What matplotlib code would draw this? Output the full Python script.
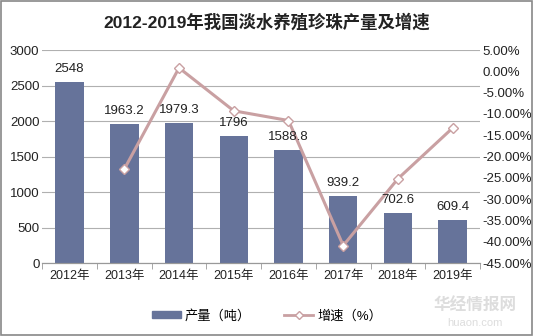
import numpy as np
import matplotlib.pyplot as plt
from matplotlib.lines import Line2D
from matplotlib.patches import Patch, Rectangle
from matplotlib.ticker import FuncFormatter

plt.rcParams['font.family'] = ['Liberation Sans', 'Noto Sans CJK SC', 'DejaVu Sans']

years = ["2012年", "2013年", "2014年", "2015年", "2016年", "2017年", "2018年", "2019年"]
output = [2548, 1963.2, 1979.3, 1796, 1588.8, 939.2, 702.6, 609.4]
output_labels = ["2548", "1963.2", "1979.3", "1796", "1588.8", "939.2", "702.6", "609.4"]
growth = [None, -22.95, 0.82, -9.26, -11.54, -40.89, -25.19, -13.27]

bar_color = "#66739a"
line_color = "#c9a0a2"

fig = plt.figure(figsize=(5.34, 3.36), dpi=100)
ax1 = fig.add_axes([0.079, 0.217, 0.820, 0.634])
ax2 = ax1.twinx()

x = np.arange(len(years))
ax1.bar(x, output, width=0.52, color=bar_color, zorder=2)

gx = [xi for xi, g in zip(x, growth) if g is not None]
gy = [g for g in growth if g is not None]
ax2.plot(gx, gy, color=line_color, lw=2.2, marker="D", markersize=5.5,
         markerfacecolor="white", markeredgecolor=line_color, markeredgewidth=1, zorder=3)

# value labels drawn on top of the line
for xi, v, s in zip(x, output, output_labels):
    ax2.annotate(s, (xi, v / 3000 * 50 - 45), xytext=(0, 5), textcoords="offset points",
                 ha="center", va="bottom", fontsize=9.5, color="#222222", zorder=5)

ax1.set_xlim(-0.5, len(years) - 0.5)
ax1.set_ylim(0, 3000)
ax1.set_yticks(np.arange(0, 3001, 500))
ax2.set_ylim(-45, 5)
ax2.set_yticks(np.arange(-45, 6, 5))
ax2.yaxis.set_major_formatter(FuncFormatter(lambda v, p: "%.2f%%" % v))

ax1.grid(axis="y", color="#b0b0b0", lw=0.8, zorder=0)
ax1.set_axisbelow(True)

for ax in (ax1, ax2):
    for side in ("left", "right", "top"):
        ax.spines[side].set_visible(False)
    ax.spines["bottom"].set_color("#999999")
    ax.tick_params(axis="y", length=0, labelsize=9.5, colors="#222222")

ax1.tick_params(axis="y", pad=2)
ax2.tick_params(axis="y", pad=2)
ax1.set_xticks(x)
ax1.set_xticklabels(years, fontsize=9)
ax1.tick_params(axis="x", length=0, pad=5, colors="#222222")
ax1.set_xticks(np.arange(-0.5, len(years), 1), minor=True)
ax1.tick_params(axis="x", which="minor", length=4, color="#999999")

fig.text(0.5, 0.935, "2012-2019年我国淡水养殖珍珠产量及增速", ha="center", va="center",
         fontsize=12.5, fontweight="bold", color="#222222")

handles = [Patch(color=bar_color, label="产量（吨）"),
           Line2D([0], [0], color=line_color, lw=2, marker="D", markersize=4,
                  markerfacecolor="white", markeredgecolor=line_color, label="增速（%）")]
fig.legend(handles=handles, loc="center", bbox_to_anchor=(0.50, 0.06), ncol=2,
           frameon=False, fontsize=9.5, handlelength=2.2, handleheight=0.4,
           handletextpad=0.3, columnspacing=2.5)

# watermark
fig.text(0.89, 0.09, "华经情报网", ha="center", va="center", fontsize=12,
         color="#dddddd", fontweight="bold")
fig.text(0.89, 0.04, "huaon.com", ha="center", va="center", fontsize=8, color="#dddddd")

fig.patches.append(Rectangle((0.002, 0.003), 0.995, 0.994, transform=fig.transFigure,
                             fill=False, edgecolor="#888888", lw=1.2))

fig.savefig("out.png", dpi=100)
